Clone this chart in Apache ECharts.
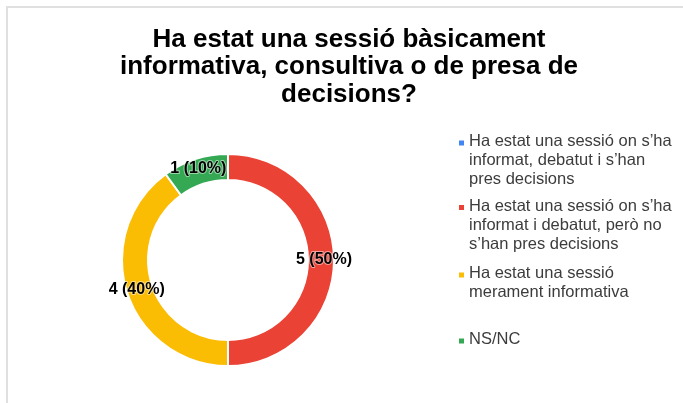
<!DOCTYPE html>
<html>
<head>
<meta charset="utf-8">
<script src="https://cdn.jsdelivr.net/npm/echarts@6/dist/echarts.min.js"></script>
<style>
  html, body { margin: 0; padding: 0; background: #fff; }
  #chart { position: absolute; left: 0; top: 0; width: 683px; height: 403px; }
  /* vora grisa del quadre del gràfic */
  #frame { position: absolute; left: 6px; top: 6px; right: 0; bottom: 0;
           border-left: 2px solid #e0e0e0; border-top: 2px solid #e0e0e0; pointer-events: none; }
</style>
</head>
<body>
<div id="chart"></div>
<div id="frame"></div>
<script>
// dades
var titleText = 'Ha estat una sessió bàsicament\ninformativa, consultiva o de presa de\ndecisions?'
var categories = [
  'Ha estat una sessió on s’ha\ninformat, debatut i s’han\npres decisions',
  'Ha estat una sessió on s’ha\ninformat i debatut, però no\ns’han pres decisions',
  'Ha estat una sessió\nmerament informativa',
  'NS/NC'
]
var values = [0, 5, 4, 1]
var colors = ['#4285F4', '#EA4335', '#FBBC04', '#34A853']
var legendTops = [132, 196.5, 264, 330]

var font = 'Arial, "Liberation Sans", sans-serif'
var lineH = 19

// una llegenda per element, amb el quadradet alineat a la primera línia
var legends = categories.map(function (name, i) {
  var h = name.split('\n').length * lineH
  return {
    data: [name],
    left: 459,
    top: legendTops[i],
    padding: 0,
    orient: 'vertical',
    selectedMode: false,
    itemWidth: 5,
    itemHeight: h,
    icon: 'path://M0,0L5,0L5,0Z M0,8.5L5,8.5L5,13.5L0,13.5Z M0,' + h + 'L5,' + h + 'L5,' + h + 'Z',
    itemStyle: { borderWidth: 0 },
    textStyle: {
      color: '#3c3c3c',
      fontFamily: font,
      fontSize: 16.5,
      lineHeight: lineH
    }
  }
})

var chart = echarts.init(document.getElementById('chart'))
chart.setOption({
  animation: false,
  color: colors,
  title: {
    text: titleText,
    left: 349,
    top: 25.5,
    padding: 0,
    textAlign: 'center',
    textStyle: {
      color: '#000',
      fontFamily: font,
      fontWeight: 'bold',
      fontSize: 26,
      lineHeight: 27.7
    }
  },
  legend: legends,
  series: [{
    type: 'pie',
    center: [228, 260],
    radius: [80, 106],
    startAngle: 90,
    clockwise: true,
    avoidLabelOverlap: false,
    itemStyle: { borderColor: '#fff', borderWidth: 2 },
    label: {
      show: true,
      position: 'inside',
      color: '#000',
      fontFamily: font,
      fontWeight: 'bold',
      fontSize: 16,
      textBorderColor: 'rgba(255,255,255,0.5)',
      textBorderWidth: 2,
      formatter: function (p) {
        if (!p.value) return ''
        return p.value + ' (' + Math.round(p.percent) + '%)'
      }
    },
    labelLine: { show: false },
    emphasis: { disabled: true },
    data: categories.map(function (name, i) {
      return { name: name, value: values[i] }
    })
  }]
})
</script>
</body>
</html>
